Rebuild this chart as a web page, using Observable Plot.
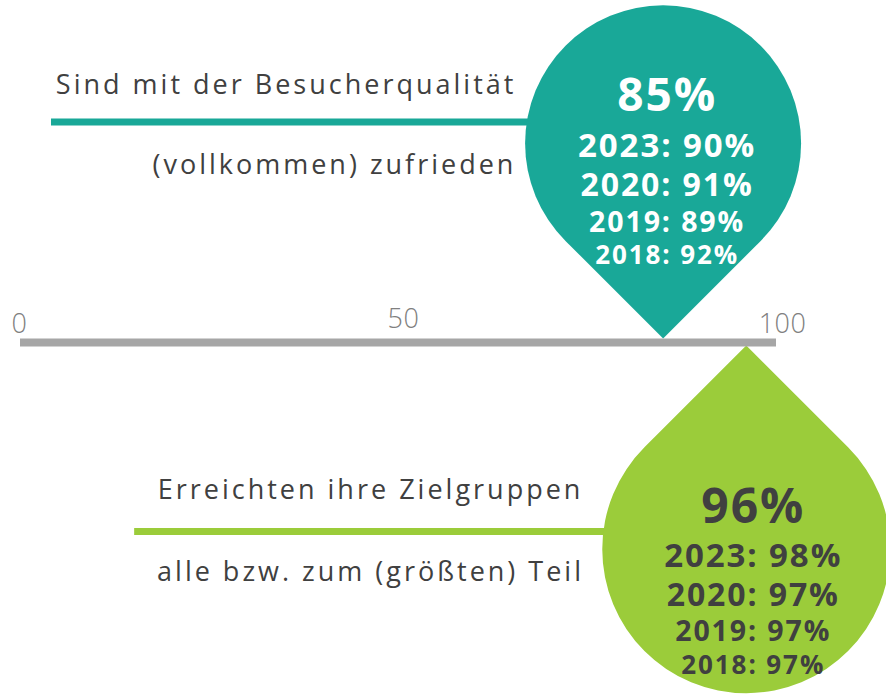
<!DOCTYPE html>
<html><head><meta charset="utf-8">
<script src="https://cdn.jsdelivr.net/npm/d3@7"></script>
<script src="https://cdn.jsdelivr.net/npm/@observablehq/plot@0.6"></script>
<style>
body{margin:0;background:#fff;} svg{display:block;}
[aria-label="label"], [aria-label="label"] text{letter-spacing:3px;}
[aria-label="value"], [aria-label="value"] text{letter-spacing:1.9px;}
[aria-label="tick"], [aria-label="tick"] text{letter-spacing:0.5px;}
</style>
</head><body><div id="chart"></div>
<script>
// ---- data ----
const labelTop = ["Sind mit der Besucherqualität", "Erreichten ihre Zielgruppen"];
const labelBottom = ["(vollkommen) zufrieden", "alle bzw. zum (größten) Teil"];
const values = [85, 96];
const years = [2023, 2020, 2019, 2018];
const history = [[90, 91, 89, 92], [98, 97, 97, 97]];
const ticks = [0, 50, 100];

// ---- layout / style ----
const layout = {
  barY: 342,
  tipY: [338, 345],
  dropR: [138, 144],
  dropDir: [-1, 1],           // -1: body above tip, 1: body below tip
  fill: ["#19a898", "#9bcc3a"],
  textFill: ["#ffffff", "#404040"],
  lineY: [121.5, 531],
  lineStart: [4.1, 15.1],
  labelX: [65.6, 46.3],
  labelAnchor: ["end", "middle"],
  labelTopY: [93, 498],
  labelBottomY: [173, 580],
  valueY: [[110, 156, 195, 231, 263], [522, 566, 605, 640, 673]],
  valueSize: [[46, 33, 32, 28.5, 26], [48, 33, 32, 28.5, 26]],
  valueDx: [4, 7],
  tickY: [332, 327, 332],
  tickDx: [-1, 5, 6]
};
const font = "'Open Sans', sans-serif";

function teardrop(dir) {
  return {
    draw(context, size) {
      const r = Math.sqrt(size / Math.PI);
      const d = r * Math.SQRT2;
      const k = r / Math.SQRT2;
      context.moveTo(0, 0);
      if (dir < 0) {
        context.lineTo(-k, -k);
        context.arc(0, -d, r, 3 * Math.PI / 4, 9 * Math.PI / 4, false);
      } else {
        context.lineTo(k, k);
        context.arc(0, d, r, -Math.PI / 4, 5 * Math.PI / 4, false);
      }
      context.closePath();
    }
  };
}

const marks = [];
values.forEach((v, i) => {
  // leader line
  marks.push(Plot.ruleY([layout.lineY[i]], {
    x1: layout.lineStart[i], x2: v, stroke: layout.fill[i], strokeWidth: 7
  }));
  // labels
  [[labelTop[i], layout.labelTopY[i]], [labelBottom[i], layout.labelBottomY[i]]].forEach(([s, yy]) => {
    marks.push(Plot.text([s], {
      x: layout.labelX[i], y: yy, text: d => d,
      textAnchor: layout.labelAnchor[i], lineAnchor: "bottom",
      fontSize: 27, fill: "#404040", fontFamily: font, ariaLabel: () => "label"
    }));
  });
  // drop
  marks.push(Plot.dot([v], {
    x: d => d, y: layout.tipY[i], r: layout.dropR[i],
    symbol: teardrop(layout.dropDir[i]), fill: layout.fill[i], stroke: "none"
  }));
  // values inside drop
  const rows = [{t: `${v}%`, k: 0}].concat(years.map((yr, j) => ({t: `${yr}: ${history[i][j]}%`, k: j + 1})));
  rows.forEach(row => {
    marks.push(Plot.text([row], {
      x: () => v, y: layout.valueY[i][row.k], text: "t",
      dx: layout.valueDx[i], lineAnchor: "bottom",
      fontSize: layout.valueSize[i][row.k], fontWeight: "bold",
      fill: layout.textFill[i], fontFamily: font, ariaLabel: () => "value"
    }));
  });
});
// axis bar
marks.push(Plot.ruleY([layout.barY], {x1: ticks[0], x2: ticks[ticks.length - 1], stroke: "#a6a6a6", strokeWidth: 8}));
ticks.forEach((t, j) => {
  marks.push(Plot.text([t], {
    x: d => d, y: layout.tickY[j], text: d => String(d), dx: layout.tickDx[j],
    lineAnchor: "bottom", fontSize: 27, fill: "#808080", fontFamily: font, fontWeight: 300, ariaLabel: () => "tick"
  }));
});

const chart = Plot.plot({
  width: 886, height: 694,
  margin: 0,
  x: {domain: [0, 100], range: [20, 776], axis: null},
  y: {type: "identity", axis: null},
  style: {background: "#ffffff", overflow: "hidden"},
  marks
});
document.getElementById("chart").append(chart);
</script>
</body></html>
